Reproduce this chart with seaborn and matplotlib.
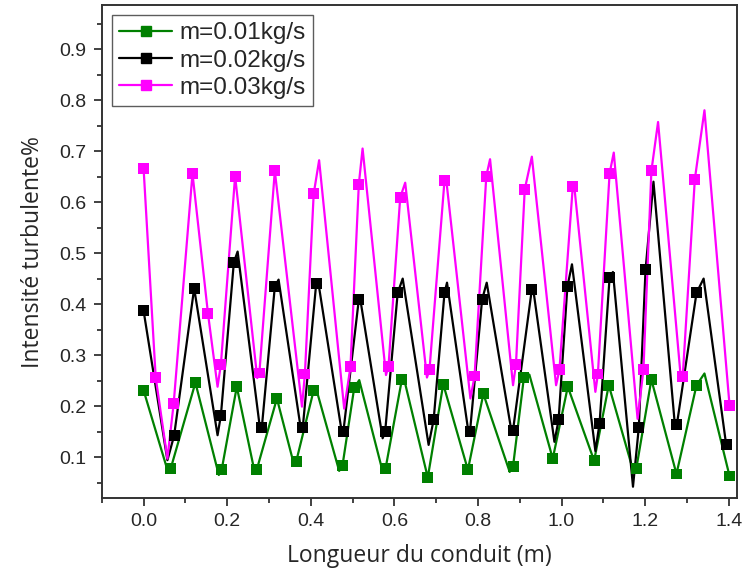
import pandas as pd
import seaborn as sns
import matplotlib.pyplot as plt
from matplotlib.lines import Line2D
from matplotlib.ticker import MultipleLocator

# Series labels and colours
labels = ['m=0.01kg/s', 'm=0.02kg/s', 'm=0.03kg/s']
colors = ['#008000', '#000000', '#ff00ff']

# --- m=0.01kg/s : marker points
x_m1 = [0.0, 0.065, 0.124, 0.187, 0.223, 0.271, 0.319, 0.365, 0.407, 0.476, 0.504, 0.579, 0.618, 0.68,
        0.717, 0.776, 0.813, 0.884, 0.91, 0.979, 1.015, 1.078, 1.113, 1.179, 1.215, 1.275, 1.323, 1.402]
y_m1 = [0.231, 0.078, 0.246, 0.076, 0.238, 0.076, 0.215, 0.091, 0.231, 0.084, 0.236, 0.078, 0.252, 0.06,
        0.243, 0.075, 0.224, 0.082, 0.256, 0.097, 0.238, 0.093, 0.241, 0.078, 0.252, 0.067, 0.241, 0.063]
# peaks / troughs of the curve between markers
x_p1 = [0.057, 0.18, 0.266, 0.36, 0.413, 0.468, 0.516, 0.572, 0.623, 0.876, 0.923, 1.172, 1.342]
y_p1 = [0.075, 0.065, 0.07, 0.085, 0.234, 0.073, 0.251, 0.072, 0.254, 0.071, 0.262, 0.072, 0.264]

# --- m=0.02kg/s
x_m2 = [0.0, 0.073, 0.121, 0.185, 0.216, 0.283, 0.314, 0.381, 0.413, 0.478, 0.515, 0.578, 0.608, 0.694,
        0.72, 0.781, 0.81, 0.884, 0.929, 0.993, 1.014, 1.091, 1.115, 1.185, 1.201, 1.276, 1.323, 1.394]
y_m2 = [0.387, 0.142, 0.431, 0.182, 0.482, 0.159, 0.434, 0.159, 0.44, 0.15, 0.409, 0.15, 0.422, 0.173,
        0.422, 0.15, 0.409, 0.153, 0.429, 0.173, 0.434, 0.166, 0.452, 0.159, 0.467, 0.164, 0.422, 0.124]
x_p2 = [0.057, 0.177, 0.225, 0.279, 0.323, 0.377, 0.418, 0.475, 0.518, 0.572, 0.62, 0.682, 0.726, 0.778,
        0.821, 0.881, 0.932, 0.983, 1.025, 1.081, 1.123, 1.171, 1.22, 1.272, 1.34]
y_p2 = [0.094, 0.143, 0.503, 0.153, 0.448, 0.151, 0.443, 0.145, 0.412, 0.137, 0.45, 0.124, 0.442, 0.145,
        0.442, 0.147, 0.431, 0.13, 0.478, 0.112, 0.463, 0.042, 0.64, 0.156, 0.45]

# --- m=0.03kg/s
x_m3 = [0.0, 0.029, 0.072, 0.117, 0.154, 0.185, 0.219, 0.277, 0.314, 0.386, 0.407, 0.495, 0.515, 0.586,
        0.614, 0.684, 0.72, 0.792, 0.82, 0.891, 0.912, 0.995, 1.027, 1.087, 1.115, 1.196, 1.215, 1.29,
        1.319, 1.402]
y_m3 = [0.666, 0.256, 0.205, 0.656, 0.382, 0.282, 0.651, 0.265, 0.661, 0.263, 0.616, 0.277, 0.635, 0.278,
        0.609, 0.271, 0.642, 0.259, 0.651, 0.282, 0.625, 0.271, 0.631, 0.263, 0.656, 0.271, 0.661, 0.258,
        0.645, 0.202]
x_p3 = [0.057, 0.177, 0.272, 0.379, 0.42, 0.48, 0.524, 0.58, 0.626, 0.678, 0.724, 0.782, 0.829, 0.884,
        0.929, 0.987, 1.03, 1.081, 1.125, 1.182, 1.231, 1.286, 1.342]
y_p3 = [0.097, 0.238, 0.255, 0.199, 0.682, 0.195, 0.705, 0.261, 0.638, 0.256, 0.645, 0.215, 0.684, 0.241,
        0.689, 0.241, 0.635, 0.228, 0.697, 0.175, 0.757, 0.25, 0.78]

series = [(x_m1, y_m1, x_p1, y_p1), (x_m2, y_m2, x_p2, y_p2), (x_m3, y_m3, x_p3, y_p3)]

marks = []
lines = []
for lab, (xm, ym, xp, yp) in zip(labels, series):
    m = pd.DataFrame({'x': xm, 'y': ym, 'serie': lab})
    p = pd.DataFrame({'x': xp, 'y': yp, 'serie': lab})
    marks.append(m)
    lines.append(pd.concat([m, p]).sort_values('x'))
marks = pd.concat(marks, ignore_index=True)
lines = pd.concat(lines, ignore_index=True)
pal = dict(zip(labels, colors))

sns.set_style('ticks')
plt.rcParams['font.family'] = ['Liberation Sans', 'DejaVu Sans']

fig = plt.figure(figsize=(7.43, 5.75), dpi=100)
ax = fig.add_axes([0.137, 0.134, 0.855, 0.857])

sns.lineplot(data=lines, x='x', y='y', hue='serie', palette=pal, estimator=None, sort=True,
             linewidth=1.6, legend=False, ax=ax)
for l in ax.lines:
    l.set_solid_joinstyle('round')
sns.scatterplot(data=marks, x='x', y='y', hue='serie', palette=pal, marker='s', s=62,
                linewidth=0, legend=False, ax=ax, zorder=3)

ax.set_xlim(-0.1, 1.42)
ax.set_ylim(0.02, 0.986)
ax.xaxis.set_major_locator(MultipleLocator(0.2))
ax.xaxis.set_minor_locator(MultipleLocator(0.1))
ax.yaxis.set_major_locator(MultipleLocator(0.1))
ax.yaxis.set_minor_locator(MultipleLocator(0.05))
ax.set_yticks([0.1, 0.2, 0.3, 0.4, 0.5, 0.6, 0.7, 0.8, 0.9])
ax.xaxis.set_major_formatter(plt.FormatStrFormatter('%.1f'))
ax.yaxis.set_major_formatter(plt.FormatStrFormatter('%.1f'))
ax.tick_params(which='major', direction='out', length=6, width=1.3, color='#333333',
               labelsize=14, pad=5)
ax.tick_params(which='minor', direction='out', length=3.5, width=1.3, color='#333333')
for lbl in ax.get_xticklabels() + ax.get_yticklabels():
    lbl.set_family(['Liberation Sans Narrow', 'Liberation Sans'])
for s in ax.spines.values():
    s.set_linewidth(1.4)
    s.set_color('#333333')

ax.set_xlabel('Longueur du conduit (m)', fontsize=16.5, family=['Open Sans', 'DejaVu Sans'], labelpad=10)
ax.set_ylabel('Intensité turbulente%', fontsize=16.5, family=['Open Sans', 'DejaVu Sans'], labelpad=10)

handles = [Line2D([], [], color=c, lw=1.6, marker='s', markersize=7.8) for c in colors]
leg = ax.legend(handles, labels, loc='upper left', fontsize=17.5, frameon=True, fancybox=False,
                edgecolor='#333333', handlelength=2.2, handletextpad=0.3, labelspacing=0.22,
                borderpad=0.3, borderaxespad=0.4)
leg.get_frame().set_linewidth(1.0)

fig.savefig('out.png', dpi=100)
